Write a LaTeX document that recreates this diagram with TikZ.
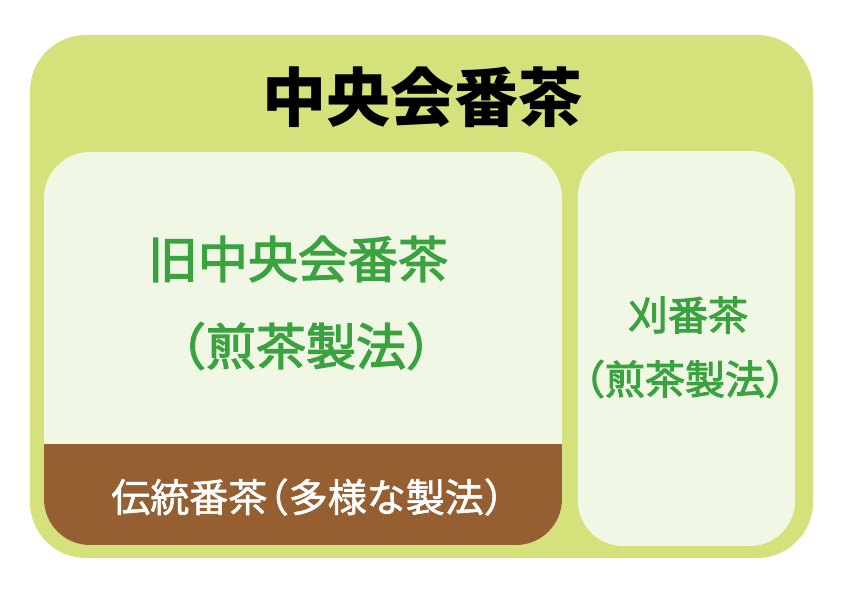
\documentclass[tikz,border=0pt]{standalone}
\usepackage{fontspec}
\setmainfont{Noto Sans CJK JP}
\newfontfamily\medfont[FakeBold=2.5]{Noto Sans CJK JP}
\newfontfamily\lightbold[FakeBold=1.5]{Noto Sans CJK JP}
\usetikzlibrary{positioning}

\definecolor{leafgreen}{RGB}{213,225,122}
\definecolor{palegreen}{RGB}{241,247,229}
\definecolor{teabrown}{RGB}{149,95,50}
\definecolor{teagreen}{RGB}{58,163,64}

\begin{document}
\begin{tikzpicture}[x=1pt, y=-1pt,
    every node/.style={inner sep=0pt, outer sep=0pt},
    panel/.style = {rectangle, rounded corners=#1},
    label/.style = {font=\medfont\fontsize{#1}{#1}\selectfont, text=teagreen}
  ]
  \useasboundingbox (0,0) rectangle (842,595);

  % boxes
  \node[panel=56pt, fill=leafgreen, minimum width=783pt, minimum height=523pt] (outer) at (421.5,296.5) {};
  \node[panel=46pt, fill=palegreen, minimum width=518pt, minimum height=393pt] (old)   at (303,348.5)   {};
  \node[panel=45pt, fill=palegreen, minimum width=217pt, minimum height=395pt] (kari)  at (686.5,348.5) {};

  % brown foot of the left box
  \begin{scope}
    \clip[rounded corners=46pt] (old.north west) rectangle (old.south east);
    \fill[teabrown] (old.west |- 0,444) rectangle (old.south east);
  \end{scope}

  % texts
  \node[font=\fontsize{64}{64}\selectfont\bfseries] (title) at (422,97) {中央会番茶};
  \node[label=50] (old_1) at (298,259) {旧中央会番茶};
  \node[label=50] (old_2) at (306,346) {（煎茶製法）};
  \node[label=40] (kari_1) at (688,315) {刈番茶};
  \node[label=40] (kari_2) at (685,379) {（煎茶製法）};
  \node[font=\lightbold\fontsize{39}{39}\selectfont, text=white] (trad) at (317,497) {伝統番茶\hspace{-0.45em}（多様な製法）};
\end{tikzpicture}
\end{document}
